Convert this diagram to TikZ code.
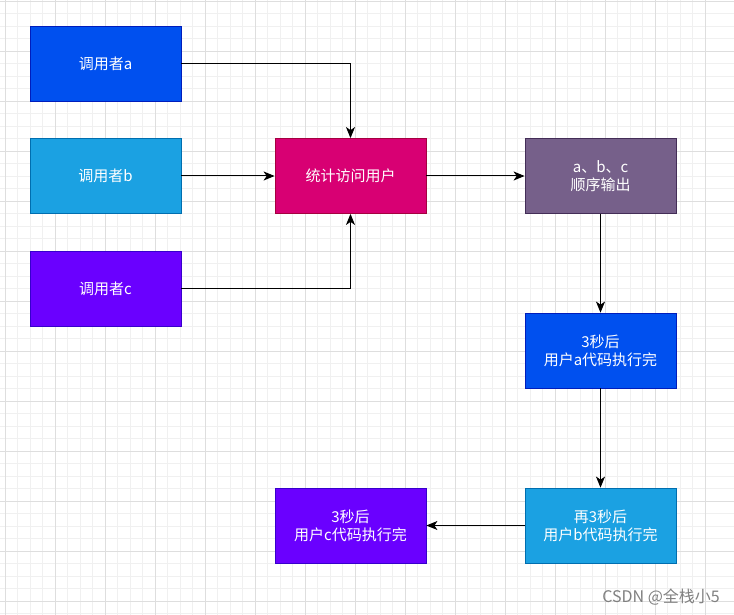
\documentclass[tikz,border=0pt]{standalone}
\usepackage{fontspec}
\setmainfont{Noto Sans CJK SC}
\usetikzlibrary{arrows.meta}
\definecolor{blueA}{HTML}{0050EF}\definecolor{blueAd}{HTML}{001DBC}
\definecolor{cyanB}{HTML}{1BA1E2}\definecolor{cyanBd}{HTML}{006EAF}
\definecolor{violC}{HTML}{6A00FF}\definecolor{violCd}{HTML}{3700CC}
\definecolor{pinkS}{HTML}{D80073}\definecolor{pinkSd}{HTML}{A50040}
\definecolor{purpO}{HTML}{76608A}\definecolor{purpOd}{HTML}{432D57}
\definecolor{gridminor}{HTML}{F0F0F0}\definecolor{gridmajor}{HTML}{DEDEDE}
\begin{document}
\begin{tikzpicture}[x=1pt,y=-1pt,
  box/.style={draw, line width=0.8pt, minimum width=151pt, minimum height=75pt, inner sep=0pt,
     text=white, font=\fontsize{15}{18}\selectfont, align=center},
  conn/.style={line width=1pt, draw=black, -{Stealth[length=11pt,width=9pt,inset=3pt]}}]
\useasboundingbox (0,0) rectangle (734,615);
\fill[white] (0,0) rectangle (734,615);
\foreach \i in {0,...,59} {
  \draw[gridminor, line width=0.8pt] ({5+12.5*\i-50},0) -- ({5+12.5*\i-50},615);
}
\foreach \i in {0,...,50} {
  \draw[gridminor, line width=0.8pt] (0,{1+12.5*\i}) -- (734,{1+12.5*\i});
}
\foreach \i in {0,...,15} {
  \draw[gridmajor, line width=0.8pt] ({5+50*\i},0) -- ({5+50*\i},615);
}
\foreach \i in {0,...,12} {
  \draw[gridmajor, line width=0.8pt] (0,{1+50*\i}) -- (734,{1+50*\i});
}
\node[box, fill=blueA, draw=blueAd] (a) at (105.5,63.5) {调用者a};
\node[box, fill=cyanB, draw=cyanBd] (b) at (105.5,176) {调用者b};
\node[box, fill=violC, draw=violCd] (c) at (105.5,288.5) {调用者c};
\node[box, fill=pinkS, draw=pinkSd] (s) at (350.5,176) {统计访问用户};
\node[box, fill=purpO, draw=purpOd] (o) at (600.5,176) {a、b、c\\顺序输出};
\node[box, fill=blueA, draw=blueAd] (ua) at (600.5,350.5) {3秒后\\用户a代码执行完};
\node[box, fill=cyanB, draw=cyanBd] (ub) at (600.5,525.5) {再3秒后\\用户b代码执行完};
\node[box, fill=violC, draw=violCd] (uc) at (350.5,525.5) {3秒后\\用户c代码执行完};
\draw[conn] (a.east) -| (s.north);
\draw[conn] (b.east) -- (s.west);
\draw[conn] (c.east) -| (s.south);
\draw[conn] (s.east) -- (o.west);
\draw[conn] (o.south) -- (ua.north);
\draw[conn] (ua.south) -- (ub.north);
\draw[conn] (ub.west) -- (uc.east);
\node[anchor=east, text=black!50, font=\fontsize{16}{18}\selectfont, inner sep=0pt] (wm) at (720,597) {CSDN @全栈小5};
\end{tikzpicture}
\end{document}
